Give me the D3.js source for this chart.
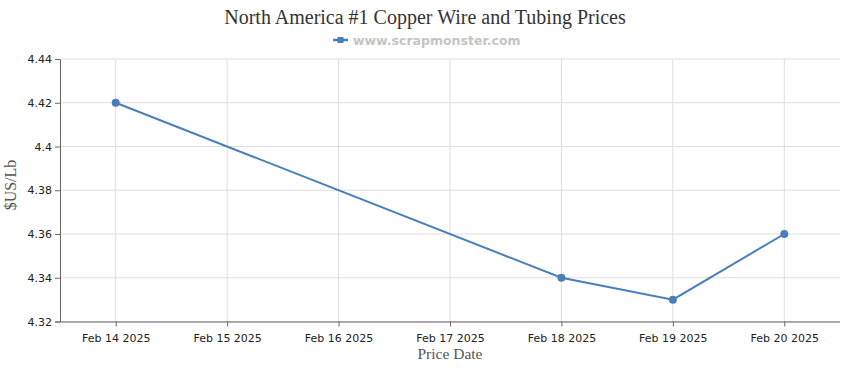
<!DOCTYPE html>
<html><head><meta charset="utf-8">
<script src="https://cdn.jsdelivr.net/npm/d3@7"></script>
<style>body{margin:0;background:#fff}svg{display:block}</style>
</head><body>
<script>
const title = "North America #1 Copper Wire and Tubing Prices";
const legendLabel = "www.scrapmonster.com";
const categories = ["Feb 14 2025","Feb 15 2025","Feb 16 2025","Feb 17 2025","Feb 18 2025","Feb 19 2025","Feb 20 2025"];
const pointDates = ["Feb 14 2025","Feb 18 2025","Feb 19 2025","Feb 20 2025"];
const pointValues = [4.42, 4.34, 4.33, 4.36];
const yTicks = [4.32, 4.34, 4.36, 4.38, 4.40, 4.42, 4.44];
const xTitle = "Price Date", yTitle = "$US/Lb";

const W = 850, H = 370;
const m = {l: 60, r: 10, t: 59, b: 48.5};
const svg = d3.select("body").append("svg").attr("width", W).attr("height", H);
const x = d3.scalePoint().domain(categories).range([m.l, W - m.r]).padding(0.5);
const y = d3.scaleLinear().domain([4.32, 4.44]).range([H - m.b, m.t]);
const color = "#4a7ebb";
const sans = "'DejaVu Sans', Tahoma, Verdana, sans-serif";
const serif = "'Liberation Serif', 'Times New Roman', serif";

// grid
svg.append("g").selectAll("line").data(yTicks).join("line")
  .attr("x1", m.l).attr("x2", W - m.r).attr("y1", d => y(d)).attr("y2", d => y(d))
  .attr("stroke", "#dddddd").attr("stroke-width", 1);
svg.append("g").selectAll("line").data(categories).join("line")
  .attr("x1", d => x(d)).attr("x2", d => x(d)).attr("y1", m.t).attr("y2", H - m.b)
  .attr("stroke", "#dddddd").attr("stroke-width", 1);

// axes
const ya = svg.append("g").attr("transform", `translate(${m.l},0)`)
  .call(d3.axisLeft(y).tickValues(yTicks).tickSize(5).tickSizeOuter(0).tickFormat(d => +d.toFixed(2) + ""));
const xa = svg.append("g").attr("transform", `translate(0,${H - m.b})`)
  .call(d3.axisBottom(x).tickSize(5).tickSizeOuter(0));
xa.select(".domain").attr("d", `M${m.l - 5},0.5H${W - m.r}`);
[ya, xa].forEach(a => {
  a.selectAll(".domain, .tick line").attr("stroke", "#666");
  a.selectAll("text").attr("fill", "#222").style("font-family", sans).style("font-size", "11px");
});
xa.selectAll("text").attr("dy", "1.12em");
ya.selectAll("text").attr("x", -8);

// line
svg.append("path").datum(pointDates.map((d, i) => [d, pointValues[i]]))
  .attr("fill", "none").attr("stroke", color).attr("stroke-width", 2)
  .attr("d", d3.line().x(d => x(d[0])).y(d => y(d[1])));
svg.append("g").selectAll("circle").data(pointDates.map((d, i) => [d, pointValues[i]])).join("circle")
  .attr("cx", d => x(d[0])).attr("cy", d => y(d[1])).attr("r", 4).attr("fill", color);

// titles
svg.append("text").attr("x", W / 2).attr("y", 24).attr("text-anchor", "middle")
  .style("font-family", serif).style("font-size", "20px").attr("fill", "#333").text(title);
svg.append("text").attr("x", 450).attr("y", 359).attr("text-anchor", "middle")
  .style("font-family", serif).style("font-size", "15.5px").attr("fill", "#555").text(xTitle);
svg.append("text").attr("transform", `translate(16,185) rotate(-90)`).attr("text-anchor", "middle")
  .style("font-family", serif).style("font-size", "16px").attr("fill", "#555").text(yTitle);

// legend
const lg = svg.append("g").attr("transform", "translate(333,40)");
lg.append("line").attr("x1", 0).attr("x2", 15).attr("y1", 0).attr("y2", 0).attr("stroke", color).attr("stroke-width", 2.5);
lg.append("rect").attr("x", 4.5).attr("y", -3).attr("width", 6).attr("height", 6).attr("fill", color);
lg.append("text").attr("x", 20).attr("y", 4.5).style("font-family", sans).style("font-size", "12.5px")
  .style("font-weight", "bold").attr("fill", "#c4c4c4").text(legendLabel);
</script>
</body></html>
